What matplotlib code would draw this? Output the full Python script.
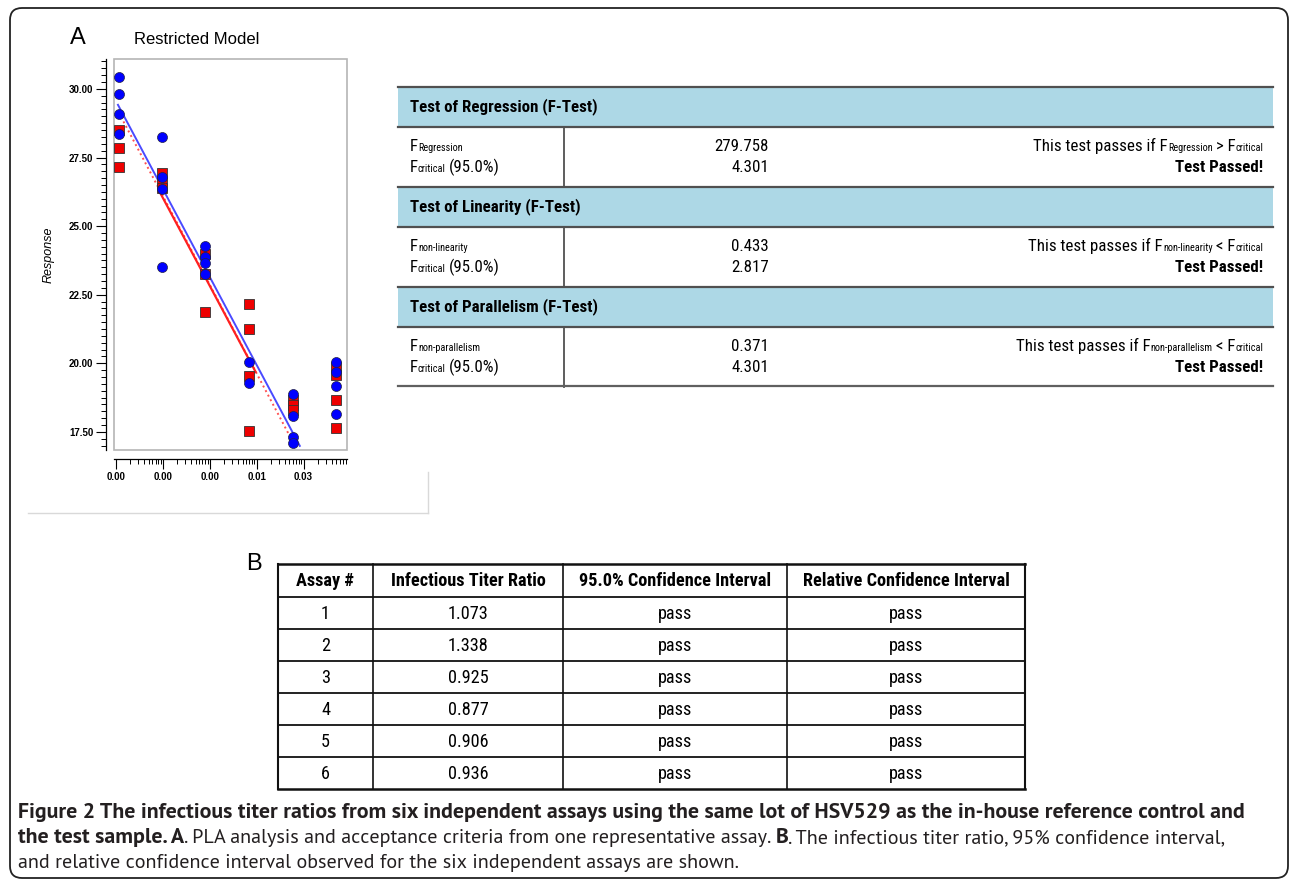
import matplotlib
matplotlib.use('Agg')
import matplotlib.pyplot as plt
from matplotlib import font_manager as fm
from matplotlib.patches import Rectangle, FancyBboxPatch
from matplotlib.ticker import FixedLocator, FixedFormatter, LogLocator, NullFormatter, MultipleLocator, FormatStrFormatter

# doses of the six dilution columns (log scale)
doses = [1.16e-5, 9.7e-5, 8.07e-4, 6.73e-3, 5.9e-2, 0.493]

# responses, one list per dose column
ref_resp = [[30.43, 29.82, 29.08, 28.35],
            [28.24, 26.80, 26.34, 23.50],
            [24.28, 23.87, 23.65, 23.26],
            [20.03, 19.30],
            [18.88, 18.09, 17.33, 17.11],
            [20.04, 19.70, 19.19, 18.14]]
test_resp = [[28.51, 27.85, 27.17],
             [26.93, 26.62, 26.38],
             [23.98, 23.26, 21.86],
             [22.16, 21.24, 19.54, 17.55],
             [18.67, 18.48, 18.30],
             [19.88, 19.58, 18.67, 17.65]]

# fitted parallel lines
ref_fit_dose = [1.10e-5, 0.0834]
ref_fit_resp = [29.42, 16.99]
test_fit_dose = [1.28e-5, 0.059]
test_fit_resp = [28.98, 17.14]
test_fit_mid_dose = [8.77e-5, 9.5e-3]
test_fit_mid_resp = [26.21, 19.69]

xtick_pos = [1e-5, 1e-4, 1e-3, 1e-2, 1e-1]
xtick_lab = ["0.00", "0.00", "0.00", "0.01", "0.03"]

# F-test table
f_tests = ["Test of Regression (F-Test)", "Test of Linearity (F-Test)", "Test of Parallelism (F-Test)"]
f_names = ["Regression", "non-linearity", "non-parallelism"]
f_values = ["279.758", "0.433", "0.371"]
f_critical = ["4.301", "2.817", "4.301"]
f_ops = [">", "<", "<"]

# table B
b_header = ["Assay #", "Infectious Titer Ratio", "95.0% Confidence Interval", "Relative Confidence Interval"]
b_assay = ["1", "2", "3", "4", "5", "6"]
b_ratio = ["1.073", "1.338", "0.925", "0.877", "0.906", "0.936"]
b_ci95 = ["pass", "pass", "pass", "pass", "pass", "pass"]
b_rel = ["pass", "pass", "pass", "pass", "pass", "pass"]

caption = [
    [("Figure 2 The infectious titer ratios from six independent assays using the same lot of HSV529 as the in-house reference control and", 'bold')],
    [("the test sample. A", 'bold'), (". PLA analysis and acceptance criteria from one representative assay.", 'normal'), 4,
     ("B", 'bold'), (". The infectious titer ratio, 95% confidence interval,", 'normal')],
    [("and relative confidence interval observed for the six independent assays are shown.", 'normal')],
]

names = {f.name for f in fm.fontManager.ttflist}


def pick(cands):
    for c in cands:
        if c in names:
            return c
    return 'DejaVu Sans'


NARROW = pick(['Roboto Condensed', 'Pragati Narrow', 'PT Sans Narrow', 'Liberation Sans'])
CAPB = pick(['PT Sans', 'Open Sans', 'Noto Sans'])
CAPR = pick(['PT Sans', 'Open Sans', 'Noto Sans'])

fig = plt.figure(figsize=(12.9, 8.88), dpi=100)
ov = fig.add_axes([0, 0, 1, 1])
ov.set_xlim(0, 1290)
ov.set_ylim(888, 0)
ov.axis('off')
rend = fig.canvas.get_renderer()


def fit(s, target, **kw):
    t = ov.text(0, 0, s, fontsize=10, **kw)
    w = t.get_window_extent(rend).width
    t.remove()
    return 10 * target / w


def pieces(x, y, parts, ha='left'):
    seq = parts if ha == 'left' else parts[::-1]
    for p in seq:
        if isinstance(p, (int, float)):
            x += p if ha == 'left' else -p
            continue
        s, kw = p
        t = ov.text(x, y, s, ha=ha, va='baseline', **kw)
        w = t.get_window_extent(rend).width
        x += w if ha == 'left' else -w


# outer box
ov.add_patch(FancyBboxPatch((10, 8), 1278, 870, boxstyle="round,pad=0,rounding_size=12",
                            fc='none', ec='#222222', lw=1.3))
# light panel border
ov.plot([28, 428], [513, 513], color='#d9d9d9', lw=1)
ov.plot([428, 428], [472, 513], color='#d9d9d9', lw=1)

ov.text(70, 44, "A", fontsize=17, family='Liberation Sans', va='baseline')
ov.text(197, 40, "Restricted Model", fontsize=12, family='Liberation Sans',
        ha='center', va='center', color='#000000')
ov.text(49, 255, "Response", fontsize=9, family='Liberation Sans', style='italic',
        rotation=90, ha='center', va='center')

# scatter panel
ax = fig.add_axes([114 / 1290, 1 - 450 / 888, (347 - 114) / 1290, (450 - 59) / 888])
ax.set_zorder(2)
ax.set_xscale('log')
ax.set_xlim(9.06e-6, 0.847)
ax.set_ylim(16.84, 31.09)

for i, d in enumerate(doses):
    ax.plot([d] * len(test_resp[i]), test_resp[i], 's', ms=7, mfc='#ee0000', mec='#333333', mew=0.6, zorder=3)
for i, d in enumerate(doses):
    ax.plot([d] * len(ref_resp[i]), ref_resp[i], 'o', ms=7.2, mfc='#0000ff', mec='#222244', mew=0.5, zorder=4)

ax.plot(test_fit_dose, test_fit_resp, ':', color='#ff5050', lw=1.4, zorder=2)
ax.plot(test_fit_mid_dose, test_fit_mid_resp, '-', color='#ff2020', lw=1.6, zorder=2)
ax.plot(ref_fit_dose, ref_fit_resp, '-', color='#4a4aff', lw=1.4, zorder=2.5)

ax.add_patch(Rectangle((0, 0), 1, 1, transform=ax.transAxes, fill=False, ec='#b5b5b5', lw=1.2,
                       clip_on=False, zorder=1))
for s in ['top', 'right']:
    ax.spines[s].set_visible(False)
ax.spines['left'].set_position(('outward', 5.8))
ax.spines['bottom'].set_position(('outward', 6.5))
ax.spines['left'].set_linewidth(0.9)
ax.spines['bottom'].set_linewidth(0.9)

ax.yaxis.set_major_locator(MultipleLocator(2.5))
ax.yaxis.set_minor_locator(MultipleLocator(0.25))
ax.yaxis.set_major_formatter(FormatStrFormatter('%.2f'))
ax.xaxis.set_major_locator(FixedLocator(xtick_pos))
ax.xaxis.set_major_formatter(FixedFormatter(xtick_lab))
ax.xaxis.set_minor_locator(LogLocator(base=10, subs=[2, 3, 4, 5, 6, 7, 8, 9], numticks=20))
ax.xaxis.set_minor_formatter(NullFormatter())
ax.tick_params(which='major', length=7, width=0.8, labelsize=7, pad=2)
ax.tick_params(which='minor', length=3.5, width=0.7)
for lab in ax.get_xticklabels() + ax.get_yticklabels():
    lab.set_fontweight('bold')
    lab.set_family('Liberation Sans')

# F-test table
fsz = fit(f_tests[0], 187, family=NARROW, fontweight='bold')
ssz = fit(f_names[0], 45, family=NARROW)
big = dict(family=NARROW, fontsize=fsz)
small = dict(family=NARROW, fontsize=ssz)
bold = dict(family=NARROW, fontsize=fsz, fontweight='bold')
for i in range(3):
    top = 87 + 100 * i
    ov.add_patch(Rectangle((398, top), 875, 40, fc='#add8e6', ec='none'))
    ov.plot([398, 1273], [top, top], color='#505050', lw=1.6)
    ov.plot([398, 1273], [top + 40, top + 40], color='#505050', lw=1.6)
    ov.plot([564, 564], [top + 40, top + 100], color='#505050', lw=1.3)
    ov.text(410, top + 20, f_tests[i], va='center', **bold)
    pieces(410, top + 64, [("F", big), (f_names[i], small)])
    pieces(410, top + 85, [("F", big), ("critical", small), 3, ("(95.0%)", big)])
    ov.text(769, top + 64, f_values[i], ha='right', va='baseline', **big)
    ov.text(769, top + 85, f_critical[i], ha='right', va='baseline', **big)
    pieces(1263, top + 64, [("This test passes if F", big), (f_names[i], small), 3,
                            (f_ops[i] + " F", big), ("critical", small)], ha='right')
    ov.text(1263, top + 85, "Test Passed!", ha='right', va='baseline', **bold)
ov.plot([398, 1273], [386, 386], color='#606060', lw=1.6)

# table B
ov.text(246, 570, "B", fontsize=17, family='Liberation Sans', va='baseline')
cols = [278, 373, 563, 787, 1025]
rows = [564, 597, 629, 661, 693, 725, 757, 789]
for j, xc in enumerate(cols):
    ov.plot([xc, xc], [rows[0], rows[-1]], color='#111111', lw=1.5 if j in (0, 4) else 1.2)
for j, yr in enumerate(rows):
    ov.plot([cols[0], cols[-1]], [yr, yr], color='#111111', lw=1.8 if j in (0, 7) else 1.3)
bsz = fit(b_header[1], 155, family=NARROW, fontweight='bold')
hb = dict(family=NARROW, fontsize=bsz, fontweight='bold')
hr = dict(family=NARROW, fontsize=bsz)
for j in range(4):
    ov.text((cols[j] + cols[j + 1]) / 2, (rows[0] + rows[1]) / 2 + 0.5, b_header[j], ha='center', va='center', **hb)
for r in range(6):
    yc = (rows[r + 1] + rows[r + 2]) / 2 + 0.5
    for j, col in enumerate([b_assay, b_ratio, b_ci95, b_rel]):
        ov.text((cols[j] + cols[j + 1]) / 2, yc, col[r], ha='center', va='center', **hr)

# caption: bold sized to line 1, regular sized to line 3
cb = fit(caption[0][0][0], 1234, family=CAPB, fontweight='bold')
cr = fit(caption[2][0][0], 726, family=CAPR)
for li, line in enumerate(caption):
    parts = []
    for p in line:
        if isinstance(p, (int, float)):
            parts.append(p)
        elif p[1] == 'bold':
            parts.append((p[0], dict(family=CAPB, fontsize=cb, fontweight='bold', color='#231f20')))
        else:
            parts.append((p[0], dict(family=CAPR, fontsize=cr, color='#231f20')))
    pieces(18, 818 + 25 * li, parts)

fig.savefig('out.png', dpi=100)
